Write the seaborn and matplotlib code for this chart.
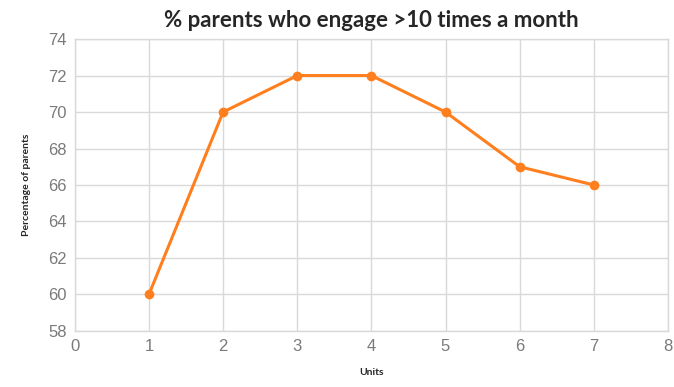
import matplotlib
matplotlib.use("Agg")
import matplotlib.pyplot as plt
import seaborn as sns
import pandas as pd

units = [1, 2, 3, 4, 5, 6, 7]
pct = [60, 70, 72, 72, 70, 67, 66]
x_ticks = [0, 1, 2, 3, 4, 5, 6, 7, 8]
y_ticks = [58, 60, 62, 64, 66, 68, 70, 72, 74]

df = pd.DataFrame({"Units": units, "Percentage of parents": pct})

sns.set_style("white")
plt.rcParams['font.family'] = ['Lato', 'DejaVu Sans']

fig, ax = plt.subplots(figsize=(6.74, 3.87), dpi=100)
fig.subplots_adjust(left=0.111, right=0.991, top=0.899, bottom=0.145)

sns.lineplot(data=df, x="Units", y="Percentage of parents", ax=ax,
             color="#ff7f1e", linewidth=2.2, marker="o", markersize=7,
             markeredgewidth=0, zorder=3)

ax.set_xlim(0, 8)
ax.set_ylim(58, 74)
ax.set_xticks(x_ticks)
ax.set_yticks(y_ticks)
ax.grid(True, color="#d9d9d9", linewidth=1)
ax.set_axisbelow(True)
for s in ax.spines.values():
    s.set_color("#d9d9d9")
    s.set_linewidth(1)
ax.tick_params(axis="both", length=0, labelsize=12, colors="#7a7a7a", pad=6)
for lab in ax.get_xticklabels() + ax.get_yticklabels():
    lab.set_family(['Liberation Sans Narrow', 'Liberation Sans', 'DejaVu Sans'])

ax.set_xlabel("Units", fontsize=7.5, fontweight="bold", labelpad=10)
ax.set_ylabel("Percentage of parents", fontsize=7.5, fontweight="bold", labelpad=12)
ax.set_title("% parents who engage >10 times a month", fontsize=16, fontweight="bold", pad=9)

fig.savefig("out.png", dpi=100)
